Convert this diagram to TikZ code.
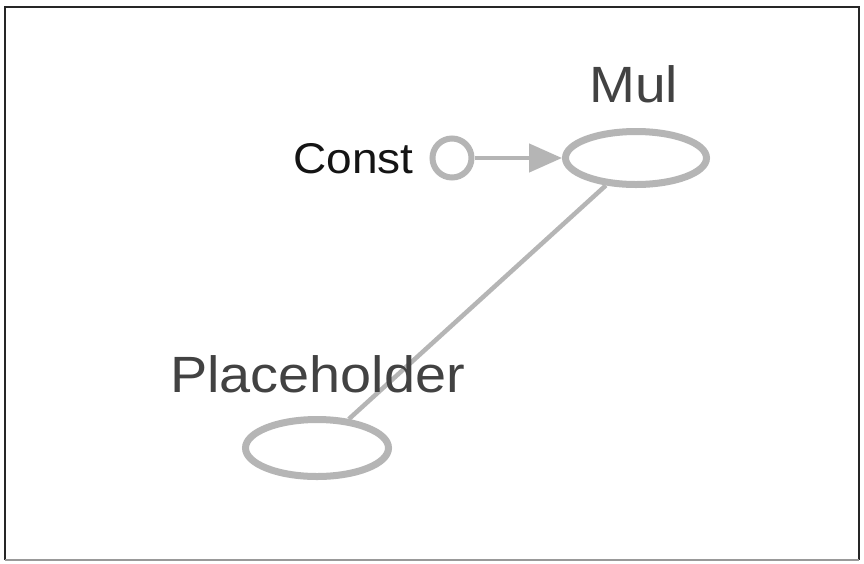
\documentclass[tikz,border=0pt]{standalone}
\usepackage{fontspec}
\setmainfont{Liberation Sans}
\usetikzlibrary{shapes.geometric,arrows.meta}
\definecolor{edgegray}{HTML}{B5B5B5}
\definecolor{labelgray}{HTML}{424242}
\definecolor{constblack}{HTML}{141414}
\begin{document}
\begin{tikzpicture}[x=1pt,y=-1pt,
  opnode/.style={ellipse,draw=edgegray,line width=7pt,fill=white,inner sep=0pt},
  constnode/.style={circle,draw=edgegray,line width=6pt,fill=white,inner sep=0pt,minimum size=39pt},
  edgeline/.style={draw=edgegray,line width=4.5pt},
  biglabel/.style={anchor=base west,inner sep=0pt,text=labelgray,font=\fontsize{51}{60}\selectfont},
  constlabel/.style={anchor=base west,inner sep=0pt,text=constblack,font=\fontsize{43}{50}\selectfont}]
\useasboundingbox (0,0) rectangle (864,563);
\fill[white] (0,0) rectangle (864,563);
% frame
\draw[line width=2.5pt,black!85] (5,560) -- (5,7) -- (859,7) -- (859,560);
\draw[line width=2.5pt,black!40] (5,560) -- (859,560);
% nodes
\node[opnode,minimum width=141pt,minimum height=53pt] (mul) at (636,158) {};
\node[opnode,minimum width=143pt,minimum height=57pt] (ph) at (317,448) {};
\node[constnode] (const) at (452,158) {};
% edges
\draw[edgeline] (ph) -- (mul);
\draw[edgeline,-{Triangle[length=33pt,width=28pt]}] (const) -- (mul);
% labels
\node[biglabel,xscale=1.08] (mullabel) at (589,102) {Mul};
\node[biglabel,xscale=1.095] (phlabel) at (170,392) {Placeholder};
\node[constlabel,xscale=1.07] (constlabel) at (293,173) {Const};
\end{tikzpicture}
\end{document}
